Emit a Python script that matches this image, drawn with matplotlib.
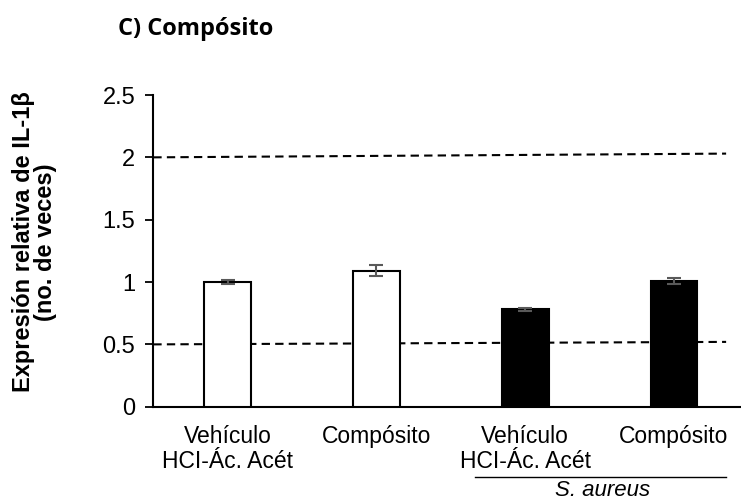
import numpy as np
import matplotlib
matplotlib.use("Agg")
import matplotlib.pyplot as plt

# Datos del gráfico
categorias = ["Vehículo\nHCI-Ác. Acét", "Compósito", "Vehículo\nHCI-Ác. Acét", "Compósito"]
expresion = [1.00, 1.09, 0.78, 1.01]
error = [0.015, 0.045, 0.012, 0.025]
colores = ["white", "white", "black", "black"]

# Líneas de referencia (inicio, fin) ligeramente inclinadas
ref_x = [-0.5, 3.35]
ref_baja = [0.50, 0.52]
ref_alta = [2.00, 2.03]

plt.rcParams["font.family"] = ["Liberation Sans", "DejaVu Sans"]

fig = plt.figure(figsize=(7.41, 5.04), dpi=100)
ax = fig.add_axes([0.2069, 0.193, 0.7931, 0.6185])

x = np.arange(len(categorias))
ax.bar(x, expresion, width=0.315, color=colores, edgecolor="black",
       linewidth=1.5, zorder=3)
ax.errorbar(x, expresion, yerr=error, fmt="none", ecolor="#595959",
            elinewidth=1.5, capsize=5, capthick=1.5, zorder=4)

ax.plot(ref_x, ref_baja, color="black", lw=1.5, linestyle=(0, (4, 2.5)), zorder=2)
ax.plot(ref_x, ref_alta, color="black", lw=1.5, linestyle=(0, (4, 2.5)), zorder=2)

ax.set_xlim(-0.5, 3.45)
ax.set_ylim(0, 2.5)
ax.set_yticks([0, 0.5, 1, 1.5, 2, 2.5])
ax.set_yticklabels(["0", "0.5", "1", "1.5", "2", "2.5"])
ax.set_xticks(x)
ax.set_xticklabels(categorias, fontsize=16.5, linespacing=1.12)
ax.tick_params(axis="x", length=0, pad=13)
ax.tick_params(axis="y", labelsize=17, length=6, width=1.3, pad=7)

for s in ["top", "right"]:
    ax.spines[s].set_visible(False)
ax.spines["left"].set_linewidth(1.5)
ax.spines["bottom"].set_linewidth(1.5)

# Título del eje y (dos líneas, centradas a mano)
fig.text(0.032, 0.52, "Expresión relativa de IL-1β", rotation=90, fontsize=17,
         fontweight="bold", ha="center", va="center")
fig.text(0.062, 0.52, "(no. de veces)", rotation=90, fontsize=17,
         fontweight="bold", ha="center", va="center")

# Agrupación S. aureus
trans = ax.get_xaxis_transform()
ax.plot([1.66, 3.35], [-0.2255, -0.2255], color="black", lw=1,
        transform=trans, clip_on=False)
ax.text(2.52, -0.27, "S. aureus", fontsize=16, style="italic",
        ha="center", va="center", transform=trans)

fig.text(0.159, 0.942, "C) Compósito", fontsize=17, fontweight="bold",
         family=["Open Sans", "DejaVu Sans"], ha="left", va="center")

fig.savefig("out.png", dpi=100)
